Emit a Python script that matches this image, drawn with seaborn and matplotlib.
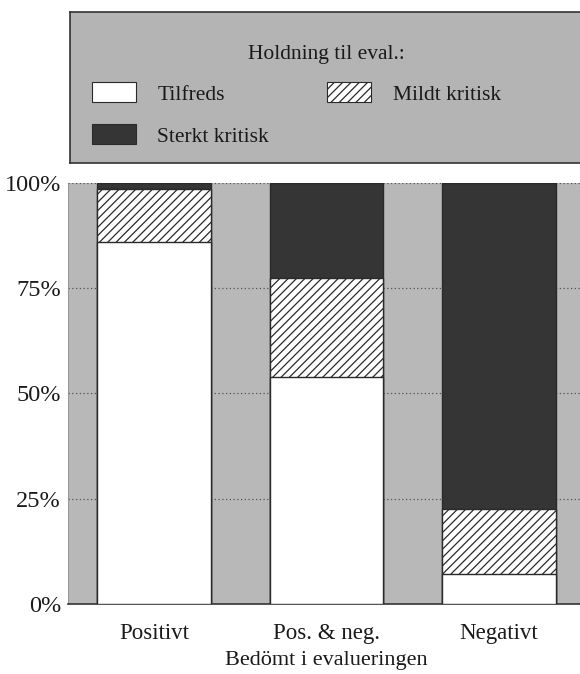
import numpy as np
import pandas as pd
import matplotlib; matplotlib.use("Agg")
import matplotlib.pyplot as plt
import seaborn as sns
from matplotlib.patches import Patch

categories   = ["Positivt", "Pos. & neg.", "Negativt"]
tilfreds     = [86.0, 54.0, 7.0]
mildt        = [12.5, 23.5, 15.5]
sterkt       = [1.5, 22.5, 77.5]
series_names = ["Tilfreds", "Mildt kritisk", "Sterkt kritisk"]
ytick_vals   = [0, 25, 50, 75, 100]
ytick_labels = ["0%", "25%", "50%", "75%", "100%"]

BG      = "#b8b8b8"
DARK    = "#353535"
EDGE    = "#2a2a2a"
FS      = 15.5

sns.set_style("white")
plt.rcParams["font.family"] = ["Liberation Serif", "DejaVu Serif"]
plt.rcParams["hatch.linewidth"] = 0.9
plt.rcParams["hatch.color"] = "#222222"

df = pd.DataFrame({"cat": categories,
                   "t": tilfreds, "m": mildt, "s": sterkt})
df["top_s"] = df["t"] + df["m"] + df["s"]
df["top_m"] = df["t"] + df["m"]
df["top_t"] = df["t"]

fig = plt.figure(figsize=(5.8, 6.74), dpi=100)
ax = fig.add_axes([0.117, 0.104, 0.892, 0.6245])
ax.set_facecolor(BG)

# stacked by overdrawing cumulative totals
sns.barplot(data=df, x="cat", y="top_s", color=DARK, width=0.66,
            edgecolor=EDGE, linewidth=1, saturation=1, ax=ax, zorder=3)
sns.barplot(data=df, x="cat", y="top_m", color="white", width=0.66,
            edgecolor=EDGE, linewidth=1, saturation=1, hatch="////", ax=ax, zorder=4)
sns.barplot(data=df, x="cat", y="top_t", color="white", width=0.66,
            edgecolor=EDGE, linewidth=1, saturation=1, ax=ax, zorder=5)

ax.set_xlim(-0.5, 2.5)
ax.set_ylim(0, 100)
ax.set_yticks(ytick_vals)
ax.set_yticklabels(ytick_labels)
ax.tick_params(axis="both", length=0, colors="#1a1a1a")
ax.tick_params(axis="y", pad=5, labelsize=17.5)
ax.tick_params(axis="x", pad=14, labelsize=16.5)
ax.yaxis.grid(True, linestyle=(0, (1, 2)), color="#555555", linewidth=0.9)
ax.set_axisbelow(True)
for sp in ["top", "right"]:
    ax.spines[sp].set_visible(False)
ax.spines["left"].set_color("#888888")
ax.spines["left"].set_linewidth(0.5)
ax.spines["bottom"].set_color("#333333")
ax.spines["bottom"].set_linewidth(1.2)
ax.set_xlabel("Bedömt i evalueringen", fontsize=16, labelpad=5, color="#1a1a1a")
ax.set_ylabel("")

# legend box
lax = fig.add_axes([0.12, 0.758, 0.9, 0.224])
lax.set_facecolor("#b4b4b4")
lax.set_xticks([]); lax.set_yticks([])
for sp in lax.spines.values():
    sp.set_color("#333333"); sp.set_linewidth(1.2)
lax.text(0.492, 0.72, "Holdning til eval.:", ha="center", va="center",
         fontsize=FS, color="#1a1a1a", transform=lax.transAxes)
handles = [Patch(facecolor="white", edgecolor=EDGE, linewidth=0.8),
           Patch(facecolor=DARK, edgecolor=EDGE, linewidth=0.8),
           Patch(facecolor="white", edgecolor=EDGE, linewidth=0.8, hatch="////")]
labels = [series_names[0], series_names[2], series_names[1]]
lax.legend(handles, labels, loc="upper left", bbox_to_anchor=(0.042, 0.535),
           ncol=2, frameon=False, fontsize=FS, handlelength=2.05,
           handleheight=1.05, handletextpad=1.0, labelspacing=0.92,
           columnspacing=2.7, borderaxespad=0, borderpad=0,
           labelcolor="#1a1a1a")

fig.savefig("out.png", dpi=100)
